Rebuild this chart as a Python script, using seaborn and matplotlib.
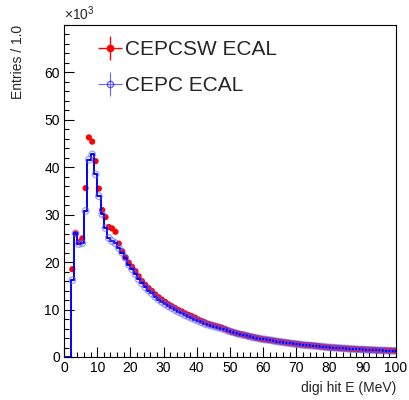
import numpy as np
import pandas as pd
import matplotlib
matplotlib.use("Agg")
import matplotlib.pyplot as plt
from matplotlib.lines import Line2D
from matplotlib.legend_handler import HandlerTuple
from matplotlib.ticker import MultipleLocator
import seaborn as sns

# digi hit energy, 1 MeV bins from 0 to 100, entries in units of 10^3
bin_edges = list(range(0, 101))
cepcsw_ecal = [
    0.0, 0.0, 18.5, 26.0, 24.2, 25.0, 35.6, 46.3, 45.4, 41.3,
    35.5, 31.0, 29.5, 27.4, 27.1, 26.4, 23.9, 22.3, 21.0, 19.9,
    19.0, 18.1, 17.0, 16.0, 15.2, 14.5, 13.9, 13.2, 12.6, 12.1,
    11.6, 11.1, 10.7, 10.3, 9.9, 9.6, 9.2, 8.9, 8.6, 8.3,
    7.9, 7.6, 7.3, 7.0, 6.8, 6.6, 6.4, 6.2, 5.9, 5.6,
    5.3, 5.1, 4.9, 4.8, 4.6, 4.4, 4.3, 4.1, 4.0, 3.8,
    3.7, 3.6, 3.5, 3.4, 3.3, 3.2, 3.1, 3.0, 2.9, 2.8,
    2.7, 2.6, 2.55, 2.5, 2.45, 2.35, 2.3, 2.2, 2.15, 2.05,
    2.0, 1.95, 1.9, 1.85, 1.8, 1.75, 1.7, 1.7, 1.65, 1.6,
    1.6, 1.55, 1.5, 1.5, 1.45, 1.4, 1.4, 1.35, 1.35, 1.3,
]
cepc_ecal = [
    0.0, 0.0, 16.2, 26.1, 23.8, 24.0, 30.8, 41.6, 42.7, 38.5,
    33.9, 30.1, 27.2, 25.1, 24.4, 24.0, 23.0, 22.0, 20.9, 19.5,
    18.5, 17.5, 16.4, 15.5, 14.7, 14.0, 13.4, 12.7, 12.1, 11.6,
    11.1, 10.7, 10.3, 9.9, 9.5, 9.2, 8.8, 8.5, 8.2, 7.9,
    7.6, 7.3, 7.0, 6.8, 6.6, 6.4, 6.2, 6.0, 5.8, 5.5,
    5.3, 5.1, 4.9, 4.7, 4.6, 4.4, 4.2, 4.1, 3.9, 3.8,
    3.7, 3.6, 3.5, 3.35, 3.25, 3.15, 3.05, 2.95, 2.85, 2.75,
    2.7, 2.6, 2.5, 2.45, 2.4, 2.35, 2.25, 2.2, 2.1, 2.05,
    2.0, 1.95, 1.9, 1.85, 1.8, 1.75, 1.7, 1.65, 1.6, 1.6,
    1.55, 1.5, 1.5, 1.45, 1.4, 1.4, 1.35, 1.35, 1.3, 1.3,
]
labels = ["CEPCSW ECAL", "CEPC ECAL"]

centers = [0.5 * (bin_edges[i] + bin_edges[i + 1]) for i in range(len(bin_edges) - 1)]
df = pd.DataFrame({"E": centers, "cepcsw": cepcsw_ecal, "cepc": cepc_ecal})

sns.set_style("white")
plt.rcParams["font.family"] = ["Liberation Sans", "DejaVu Sans"]
plt.rcParams["mathtext.fontset"] = "custom"
plt.rcParams["mathtext.rm"] = "Liberation Sans"
plt.rcParams["mathtext.it"] = "Liberation Sans:italic"

fig = plt.figure(figsize=(4.09, 4.0), dpi=100)
ax = fig.add_axes([64 / 409, 43 / 400, 332 / 409, 332 / 400])

red = "#ff0000"
blue = "#0000ff"

sns.scatterplot(data=df[df["cepcsw"] > 0], x="E", y="cepcsw", ax=ax, color=red,
                s=20, edgecolor="none", zorder=3, legend=False)
sns.histplot(x=df["E"], weights=df["cepc"], bins=bin_edges, element="step",
             fill=False, color=blue, linewidth=1.4, ax=ax, zorder=4)
sns.scatterplot(data=df[df["cepc"] > 0], x="E", y="cepc", ax=ax, marker="o",
                s=22, facecolor="none", edgecolor=(0.35, 0.35, 1.0, 0.55),
                linewidth=1.0, zorder=5, legend=False)

ax.set_xlim(0, 100)
ax.set_ylim(0, 70)
ax.xaxis.set_major_locator(MultipleLocator(10))
ax.xaxis.set_minor_locator(MultipleLocator(2))
ax.yaxis.set_minor_locator(MultipleLocator(2))
ax.set_yticks([0, 10, 20, 30, 40, 50, 60])
ax.tick_params(which="both", direction="in", bottom=True, left=True, top=False, right=False,
               labelsize=10, colors="black", width=0.8)
ax.tick_params(which="major", length=7.5, pad=3)
ax.tick_params(which="minor", length=3.8)
for sp in ax.spines.values():
    sp.set_color("black")
    sp.set_linewidth(0.8)

ax.set_xlabel("digi hit E (MeV)", loc="right", fontsize=10)
ax.set_ylabel("Entries / 1.0", loc="top", fontsize=10, labelpad=14)
ax.text(0.0, 1.005, r"$\times10^{3}$", transform=ax.transAxes, fontsize=10,
        ha="left", va="bottom")

h_red = (Line2D([], [], color=red, marker="+", markersize=17, linestyle="none", markeredgewidth=1.0),
         Line2D([], [], color=red, marker="o", markersize=4.5, linestyle="none"))
h_blue = (Line2D([], [], color=blue, marker="+", markersize=17, linestyle="none", markeredgewidth=0.8, alpha=0.6),
          Line2D([], [], color=blue, marker="o", markersize=4.5, linestyle="none", markerfacecolor="none", alpha=0.6))
ax.legend([h_red, h_blue], labels, handler_map={tuple: HandlerTuple(ndivide=1, pad=0)},
          loc="upper left", bbox_to_anchor=(0.04, 1.01), frameon=False, fontsize=15,
          handlelength=1.3, handletextpad=0.1, labelspacing=0.8)

fig.savefig("out.png", dpi=100, facecolor="white")
